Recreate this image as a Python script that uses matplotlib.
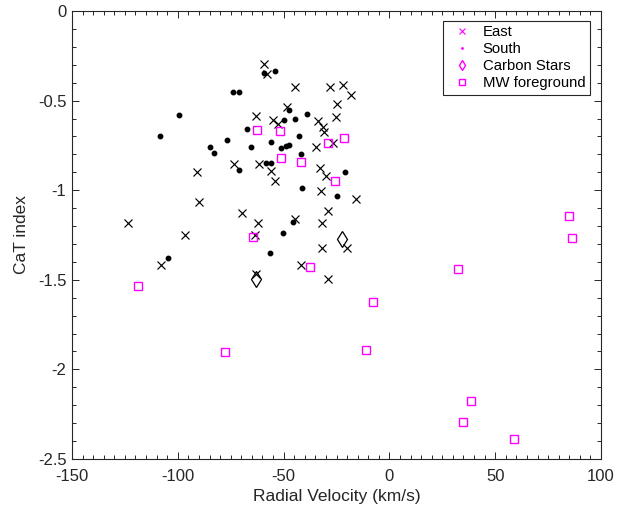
import matplotlib
matplotlib.use('Agg')
import matplotlib.pyplot as plt
from matplotlib.lines import Line2D
from matplotlib.ticker import MultipleLocator, FuncFormatter

plt.rcParams['font.family'] = ['Liberation Sans', 'DejaVu Sans']

#East field stars (radial velocity km/s, CaT index)
east_rv = [-59.3, -57.7, -44.5, -27.9, -22.1, -18.0, -24.8, -48.4, -25.2, -63.0,
           -55.2, -52.5, -33.7, -31.4, -30.8, -34.7, -26.5, -73.6, -61.8, -56.1,
           -54.3, -32.8, -30.0, -32.3, -15.6, -91.1, -90.1, -69.8, -28.9, -44.5,
           -62.0, -123.4, -96.7, -63.5, -31.9, -20.2, -31.9, -107.8, -41.8, -63.0,
           -28.9]
east_cat = [-0.297, -0.353, -0.422, -0.422, -0.411, -0.469, -0.519, -0.537, -0.590, -0.584,
            -0.610, -0.632, -0.616, -0.647, -0.677, -0.759, -0.735, -0.854, -0.852, -0.893,
            -0.950, -0.876, -0.919, -1.004, -1.049, -0.898, -1.066, -1.129, -1.116, -1.162,
            -1.185, -1.185, -1.250, -1.250, -1.181, -1.321, -1.324, -1.419, -1.419, -1.469,
            -1.496]

#South field stars
south_rv = [-99.4, -108.4, -84.8, -82.9, -76.7, -73.9, -71.1, -59.3, -54.1, -47.4,
            -38.9, -44.6, -49.8, -67.3, -42.7, -56.0, -65.4, -51.2, -48.9, -47.4,
            -41.8, -71.1, -58.3, -56.0, -41.3, -24.8, -21.0, -45.6, -50.3, -56.4,
            -104.6]
south_cat = [-0.58, -0.70, -0.76, -0.79, -0.72, -0.45, -0.45, -0.346, -0.335, -0.55,
             -0.575, -0.60, -0.61, -0.66, -0.70, -0.73, -0.76, -0.765, -0.755, -0.748,
             -0.80, -0.887, -0.85, -0.85, -0.99, -1.03, -0.90, -1.18, -1.24, -1.35,
             -1.378]

#Carbon stars
carbon_rv = [-22.3, -63.0]
carbon_cat = [-1.274, -1.494]

#Milky Way foreground
mw_rv = [-62.6, -51.7, -21.5, -29.0, -51.2, -41.8, -25.7, -64.5, -37.5, -118.8,
         -7.8, -77.5, -11.0, 85.0, 86.4, 32.3, 38.6, 34.8, 58.7]
mw_cat = [-0.664, -0.67, -0.71, -0.737, -0.82, -0.84, -0.95, -1.26, -1.43, -1.535,
          -1.625, -1.903, -1.89, -1.144, -1.268, -1.441, -2.176, -2.293, -2.39]

AX_COLOR = '#262626'

fig = plt.figure(figsize=(6.36, 5.07), dpi=100)
ax = fig.add_axes([0.1132, 0.0947, 0.8318, 0.8836])

ax.plot(east_rv, east_cat, 'x', color='k', markersize=6.2, markeredgewidth=0.85, linestyle='none')
ax.plot(south_rv, south_cat, 'o', color='k', markersize=3.2, linestyle='none')
ax.plot(carbon_rv, carbon_cat, 'd', markerfacecolor='none', markeredgecolor='k',
        markersize=8, markeredgewidth=0.9, linestyle='none')
ax.plot(mw_rv, mw_cat, 's', markerfacecolor='none', markeredgecolor='#ff00ff',
        markersize=6, markeredgewidth=1.0, linestyle='none')

ax.set_xlim(-150, 100)
ax.set_ylim(-2.5, 0)
ax.xaxis.set_major_locator(MultipleLocator(50))
ax.xaxis.set_minor_locator(MultipleLocator(5))
ax.yaxis.set_major_locator(MultipleLocator(0.5))
ax.yaxis.set_minor_locator(MultipleLocator(0.1))
#plain hyphen minus signs like the original
ax.xaxis.set_major_formatter(FuncFormatter(lambda v, p: '%g' % v))
ax.yaxis.set_major_formatter(FuncFormatter(lambda v, p: '%g' % v))

ax.tick_params(which='both', direction='in', top=True, right=True, colors=AX_COLOR,
               labelsize=12, width=0.7)
ax.tick_params(which='major', length=5, pad=4)
ax.tick_params(which='minor', length=3)
ax.tick_params(axis='x', which='major', pad=7)
for s in ax.spines.values():
    s.set_color(AX_COLOR)
    s.set_linewidth(0.8)

ax.set_xlabel('Radial Velocity (km/s)', fontsize=12.5, color=AX_COLOR, labelpad=4)
ax.set_ylabel('CaT index', fontsize=12.5, color=AX_COLOR, labelpad=6)

#legend markers are all magenta in the original
handles = [
    Line2D([], [], marker='x', color='#ff00ff', linestyle='none', markersize=4, markeredgewidth=0.8),
    Line2D([], [], marker='.', color='#ff00ff', linestyle='none', markersize=2),
    Line2D([], [], marker='d', markerfacecolor='none', markeredgecolor='#ff00ff', linestyle='none', markersize=5),
    Line2D([], [], marker='s', markerfacecolor='none', markeredgecolor='#ff00ff', linestyle='none', markersize=4),
]
labels = ['East', 'South', 'Carbon Stars', 'MW foreground']
leg = ax.legend(handles, labels, loc='upper right', bbox_to_anchor=(0.979, 0.978),
                borderaxespad=0, fontsize=10.7, fancybox=False, framealpha=1,
                handlelength=2.0, handletextpad=0.4, labelspacing=0.2, borderpad=0.3)
leg.get_frame().set_edgecolor(AX_COLOR)
leg.get_frame().set_linewidth(0.8)

fig.savefig('out.png', dpi=100)
